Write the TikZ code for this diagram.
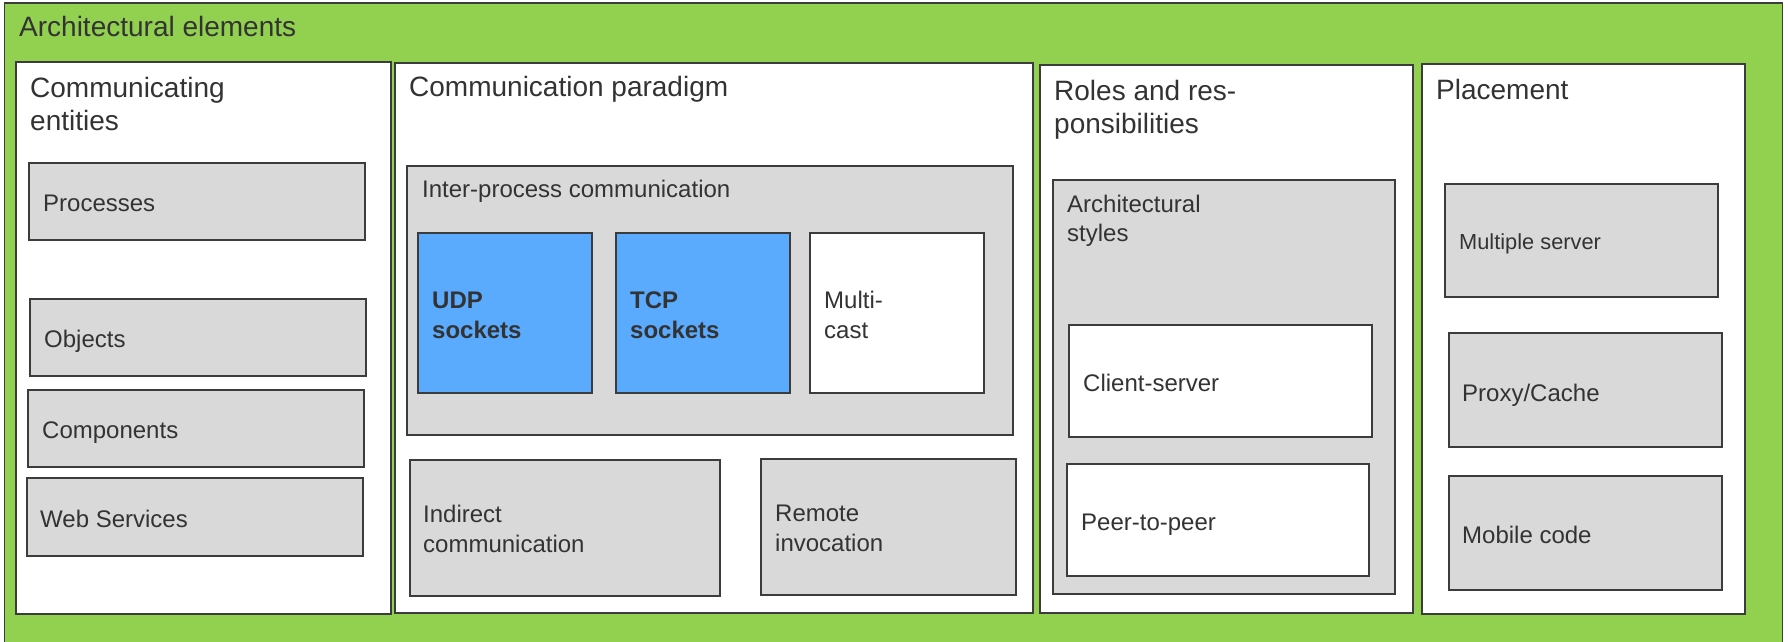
\documentclass[tikz,border=0pt]{standalone}
\usepackage{fontspec}
\setmainfont{Liberation Sans}
\definecolor{leaf}{RGB}{146,208,80}
\definecolor{edge}{RGB}{60,60,60}
\definecolor{ink}{RGB}{51,51,51}
\definecolor{boxgray}{RGB}{217,217,217}
\definecolor{sockblue}{RGB}{90,171,253}
\tikzset{
  outerbox/.style={draw=edge, fill=leaf, line width=1.5pt},
  panel/.style={draw=edge, fill=white, line width=1.5pt},
  graybox/.style={draw=edge, fill=boxgray, line width=1.5pt},
  bluebox/.style={draw=edge, fill=sockblue, line width=1.5pt},
  whitebox/.style={draw=edge, fill=white, line width=1.5pt},
  % text nodes are placed by the baseline of their last line
  heading/.style={anchor=base west, inner sep=0pt, align=left, text=ink,
    font=\fontsize{28}{33}\selectfont},
  label/.style={anchor=base west, inner sep=0pt, align=left, text=ink,
    font=\fontsize{24}{29.5}\selectfont},
  smalllabel/.style={label, font=\fontsize{21.8}{26}\selectfont},
  boldlabel/.style={label, font=\fontsize{24}{30}\selectfont\bfseries},
}
\begin{document}
\begin{tikzpicture}[x=1pt, y=-1pt]
  \useasboundingbox (0,0) rectangle (1788,641);

  % outer frame
  \draw[outerbox] (4.5,3) rectangle (1782.5,700);
  \node[heading] (title) at (19,36) {Architectural elements};

  % column frames
  \draw[panel] (16,62) rectangle (391,614);
  \draw[panel] (395,63) rectangle (1033,613);
  \draw[panel] (1040,65) rectangle (1413,613);
  \draw[panel] (1422,64) rectangle (1745,614);

  \node[heading] (entities) at (30,130) {Communicating\\entities};
  \node[heading] (paradigm) at (409,96) {Communication paradigm};
  \node[heading] (roles) at (1054,133) {Roles and res-\\ponsibilities};
  \node[heading] (placement) at (1436,99) {Placement};

  % communicating entities
  \draw[graybox] (29,163) rectangle (365,240);
  \node[label] (processes) at (43,211.7) {Processes};
  \draw[graybox] (30,299) rectangle (366,376);
  \node[label] (objects) at (44,347.5) {Objects};
  \draw[graybox] (28,390) rectangle (364,467);
  \node[label] (components) at (42,438.3) {Components};
  \draw[graybox] (27,478) rectangle (363,556);
  \node[label] (webservices) at (40,527.3) {Web Services};

  % communication paradigm
  \draw[graybox] (407,166) rectangle (1013,435);
  \node[label] (ipc) at (422,197) {Inter-process communication};
  \draw[bluebox] (418,233) rectangle (592,393);
  \node[boldlabel] (udp) at (432,338) {UDP\\sockets};
  \draw[bluebox] (616,233) rectangle (790,393);
  \node[boldlabel] (tcp) at (630,338) {TCP\\sockets};
  \draw[whitebox] (810,233) rectangle (984,393);
  \node[label, font=\fontsize{24}{30}\selectfont] (multicast) at (824,338) {Multi-\\cast};
  \draw[graybox] (410,460) rectangle (720,596);
  \node[label] (indirect) at (423,552) {Indirect\\communication};
  \draw[graybox] (761,459) rectangle (1016,595);
  \node[label] (remote) at (775,551) {Remote\\invocation};

  % roles and responsibilities
  \draw[graybox] (1053,180) rectangle (1395,594);
  \node[label] (styles) at (1067,241.6) {Architectural\\styles};
  \draw[whitebox] (1069,325) rectangle (1372,437);
  \node[label] (clientserver) at (1083,391.7) {Client-server};
  \draw[whitebox] (1067,464) rectangle (1369,576);
  \node[label] (peer) at (1081,530.7) {Peer-to-peer};

  % placement
  \draw[graybox] (1445,184) rectangle (1718,297);
  \node[smalllabel] (multiserver) at (1459,249.4) {Multiple server};
  \draw[graybox] (1449,333) rectangle (1722,447);
  \node[label] (proxy) at (1462,401.5) {Proxy/Cache};
  \draw[graybox] (1449,476) rectangle (1722,590);
  \node[label] (mobile) at (1462,543.7) {Mobile code};
\end{tikzpicture}
\end{document}
